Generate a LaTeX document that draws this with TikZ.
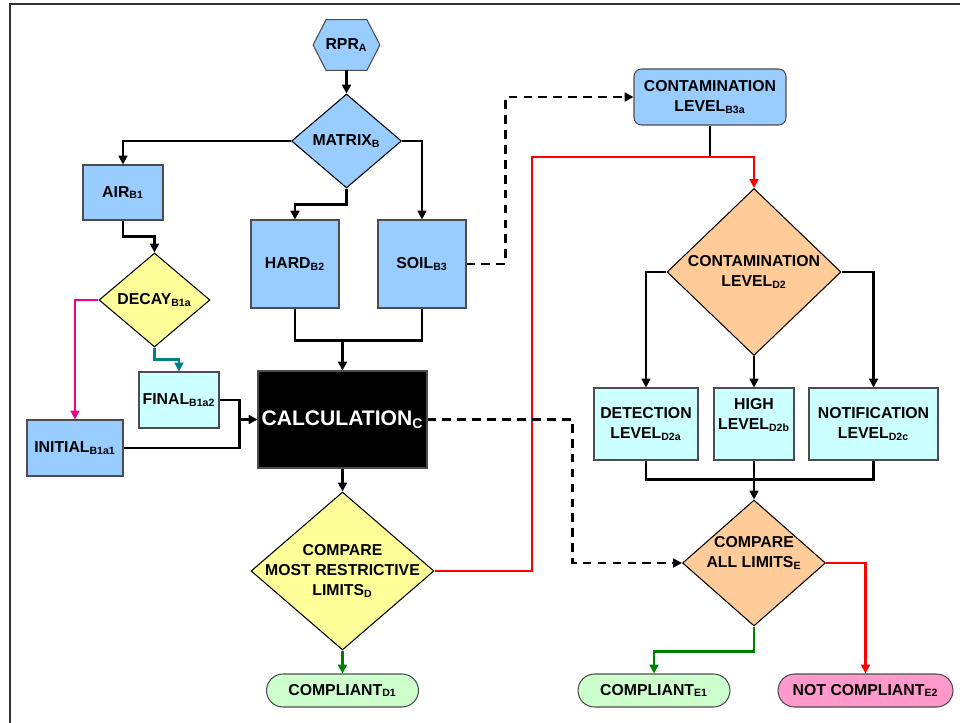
\documentclass[tikz,border=0pt]{standalone}
\usepackage{fontspec}
\setmainfont{Liberation Sans}
\usetikzlibrary{shapes.geometric,arrows.meta,backgrounds}
\definecolor{bluefill}{HTML}{99CCFF}
\definecolor{yellowfill}{HTML}{FFFF99}
\definecolor{cyanfill}{HTML}{CCFFFF}
\definecolor{orangefill}{HTML}{FFCC99}
\definecolor{greenfill}{HTML}{CCFFCC}
\definecolor{pinkfill}{HTML}{FF99CC}
\definecolor{tealline}{HTML}{008080}
\definecolor{greenline}{HTML}{008000}
\newcommand{\lsub}[1]{\textsubscript{#1}}
\begin{document}
\begin{tikzpicture}[x=0.02cm, y=-0.02cm, >={Triangle[length=5pt,width=5pt]}, line width=1.6pt,
    txt/.style={font=\fontsize{9}{11.4}\selectfont\bfseries, align=center},
    box/.style={txt, rectangle, draw=black!70, line width=0.6pt, inner sep=0pt},
    dia/.style={diamond, draw=black, line width=0.6pt, inner sep=0pt},
    pill/.style={box, rounded corners=0.33cm, minimum height=0.66cm},
    dashline/.style={dash pattern=on 5pt off 3.5pt}]
    \useasboundingbox (0,0) rectangle (960,723);
    \draw[black!80, line width=1.1pt] (10,723) -- (10,4) -- (960,4);

    \node[txt, minimum width=1.28cm, minimum height=0.96cm, inner sep=0pt] (rpr) at (346.5,45) {RPR\lsub{A}};
    \begin{scope}[on background layer]
        \filldraw[fill=bluefill, draw=black!70, line width=0.6pt] (rpr.west) -- ([xshift=0.26cm]rpr.north west) -- ([xshift=-0.26cm]rpr.north east) -- (rpr.east) -- ([xshift=-0.26cm]rpr.south east) -- ([xshift=0.26cm]rpr.south west) -- cycle;
    \end{scope}
    \node[dia, fill=bluefill, minimum width=2.2cm, minimum height=1.88cm, label={[txt]center:MATRIX\lsub{B}}] (matrix) at (346.5,141) {};
    \node[box, fill=bluefill, minimum width=1.6cm, minimum height=1.1cm] (air) at (123,192.5) {AIR\lsub{B1}};
    \node[dia, fill=yellowfill, minimum width=2.22cm, minimum height=1.88cm, label={[txt]center:DECAY\lsub{B1a}}] (decay) at (154.5,300) {};
    \node[box, fill=bluefill, minimum width=1.76cm, minimum height=1.76cm] (hard) at (295,264) {HARD\lsub{B2}};
    \node[box, fill=bluefill, minimum width=1.76cm, minimum height=1.76cm] (soil) at (422,264) {SOIL\lsub{B3}};
    \node[box, fill=cyanfill, minimum width=1.6cm, minimum height=1.12cm] (final) at (179,400) {FINAL\lsub{B1a2}};
    \node[box, fill=bluefill, minimum width=1.92cm, minimum height=1.12cm] (initial) at (75,448) {INITIAL\lsub{B1a1}};
    \node[box, fill=black, text=white, font=\fontsize{12}{14}\selectfont\bfseries, minimum width=3.38cm, minimum height=1.94cm] (calc) at (342.5,419.5) {CALCULATION\lsub{C}};
    \node[dia, fill=yellowfill, minimum width=3.66cm, minimum height=3.16cm, label={[txt]center:COMPARE\\MOST RESTRICTIVE\\LIMITS\lsub{D}}] (cmpd) at (342.5,571) {};
    \node[pill, fill=greenfill, minimum width=3.04cm] (compd) at (342.5,690.5) {COMPLIANT\lsub{D1}};

    \node[box, fill=bluefill, rounded corners=0.15cm, minimum width=3.04cm, minimum height=1.12cm] (level) at (710,97) {CONTAMINATION\\LEVEL\lsub{B3a}};
    \node[dia, fill=orangefill, minimum width=3.48cm, minimum height=3.34cm, label={[txt]center:CONTAMINATION\\LEVEL\lsub{D2}}] (cmpl) at (754,272) {};
    \node[box, fill=cyanfill, minimum width=2.08cm, minimum height=1.44cm] (detect) at (646,424) {DETECTION\\LEVEL\lsub{D2a}};
    \node[box, fill=cyanfill, minimum width=1.6cm, minimum height=1.44cm, label={[txt, yshift=0.18cm]center:HIGH\\LEVEL\lsub{D2b}}] (high) at (754,424) {};
    \node[box, fill=cyanfill, minimum width=2.58cm, minimum height=1.44cm] (notify) at (873.5,424) {NOTIFICATION\\LEVEL\lsub{D2c}};
    \node[dia, fill=orangefill, minimum width=2.86cm, minimum height=2.52cm, label={[txt, yshift=0.2cm]center:COMPARE\\ALL LIMITS\lsub{E}}] (cmpe) at (754,563) {};
    \node[pill, fill=greenfill, minimum width=3.04cm] (compe) at (654,690.5) {COMPLIANT\lsub{E1}};
    \node[pill, fill=pinkfill, minimum width=3.5cm] (notcomp) at (865.5,690.5) {NOT COMPLIANT\lsub{E2}};

    \draw[->] (rpr.south) -- (matrix.north);
    \draw[->] (matrix.west) -| (air.north);
    \draw[->] (matrix.south) -- ++(0,16) -| (hard.north);
    \draw[->] (matrix.east) -| (soil.north);
    \draw[->] (air.south) -- ++(0,16) -| (decay.north);
    \draw[->, magenta] (decay.west) -| (initial.north);
    \draw[->, tealline] (decay.south) -- ++(0,12) -| (final.north);
    \draw (hard.south) -- ++(0,32) coordinate (hs) -| (soil.south);
    \draw[->] (calc.north |- hs) -- (calc.north);
    \draw (final.east) -- ++(20,0) coordinate (fe) |- (initial.east);
    \draw[->] (fe |- calc.west) -- (calc.west);
    \draw[->] (calc.south) -- (cmpd.north);
    \draw[->, greenline] (cmpd.south) -- (compd.north);
    \draw (level.south) -- ++(0,32);
    \draw[->, red, line width=1.3pt] (cmpd.east) -| (532,157) -| (cmpl.north);
    \draw[->, dashline] (soil.east) -- ++(39,0) |- (level.west);
    \draw[->, dashline] (calc.east) -- ++(145,0) |- (cmpe.west);
    \foreach \a/\b in {west/detect, south/high, east/notify}
        \draw[->] (cmpl.\a) -| (\b.north);
    \draw (detect.south) -- ++(0,19) -| (notify.south);
    \draw[->] (high.south) -- (cmpe.north);
    \draw[->, greenline] (cmpe.south) -- ++(0,25) -| (compe.north);
    \draw[->, red, line width=1.3pt] (cmpe.east) -| (notcomp.north);
\end{tikzpicture}
\end{document}
